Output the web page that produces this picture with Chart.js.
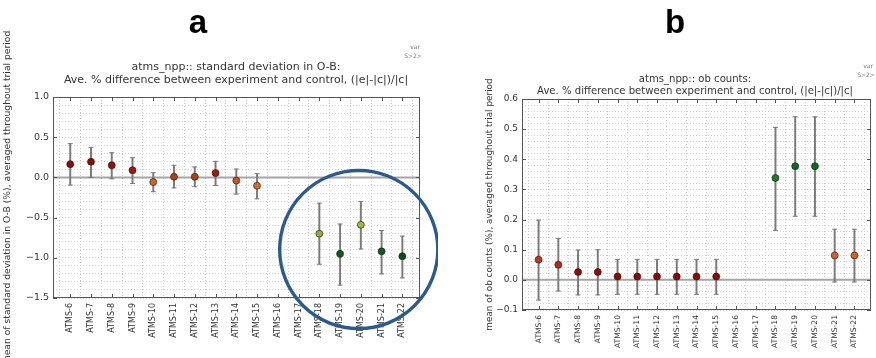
<!DOCTYPE html>
<html>
<head>
<meta charset="utf-8">
<script src="https://cdn.jsdelivr.net/npm/chart.js@4.4.0/dist/chart.umd.min.js"></script>
<style>
  html, body { margin: 0; padding: 0; background: #fff; overflow: hidden; }
  #wrap { position: relative; width: 876px; height: 358px; }
  canvas { position: absolute; top: 0; }
</style>
</head>
<body>
<div id="wrap">
  <canvas id="chartA" width="438" height="358" style="left:0"></canvas>
  <canvas id="chartB" width="438" height="358" style="left:438px"></canvas>
</div>
<script>
// channels on the x axis
const channels = ['ATMS-6', 'ATMS-7', 'ATMS-8', 'ATMS-9', 'ATMS-10', 'ATMS-11', 'ATMS-12', 'ATMS-13',
  'ATMS-14', 'ATMS-15', 'ATMS-16', 'ATMS-17', 'ATMS-18', 'ATMS-19', 'ATMS-20', 'ATMS-21', 'ATMS-22'];

// panel a: std dev in O-B, % difference
const sdMean = [0.165, 0.195, 0.15, 0.09, -0.058, 0.008, 0.008, 0.054, -0.04, -0.104, null, null, -0.70, -0.95, -0.59, -0.92, -0.98];
const sdLow  = [-0.095, 0.0, -0.017, -0.075, -0.178, -0.13, -0.116, -0.10, -0.207, -0.266, null, null, -1.08, -1.34, -0.89, -1.20, -1.25];
const sdHigh = [0.42, 0.373, 0.307, 0.245, 0.058, 0.15, 0.13, 0.20, 0.104, 0.046, null, null, -0.32, -0.58, -0.30, -0.66, -0.73];
const sdColors = ['#8b0a0a', '#8b0a0a', '#940f0c', '#a01810', '#d0602c', '#b0401a', '#b0401a', '#a01a0e', '#c85528',
  '#d46a30', null, null, '#8fb040', '#0d5d22', '#9ab845', '#0d5d22', '#0a4d1c'];
const sdTicks = [-1.5, -1.0, -0.5, 0.0, 0.5, 1.0];

// panel b: ob counts, % difference
const obMean = [0.067, 0.05, 0.026, 0.026, 0.011, 0.011, 0.011, 0.011, 0.011, 0.011, null, null, 0.338, 0.377, 0.377, 0.081, 0.081];
const obLow  = [-0.067, -0.037, -0.05, -0.05, -0.048, -0.048, -0.048, -0.048, -0.048, -0.048, null, null, 0.164, 0.211, 0.211, -0.007, -0.007];
const obHigh = [0.198, 0.137, 0.099, 0.10, 0.068, 0.068, 0.068, 0.068, 0.068, 0.068, null, null, 0.506, 0.541, 0.541, 0.168, 0.168];
const obColors = ['#c0391b', '#b52a14', '#900d0b', '#900d0b', '#8b0a0a', '#8b0a0a', '#8b0a0a', '#8b0a0a', '#8b0a0a',
  '#8b0a0a', null, null, '#1e7a30', '#0d6a25', '#0d6a25', '#d4602a', '#d4602a'];
const obTicks = [-0.1, 0.0, 0.1, 0.2, 0.3, 0.4, 0.5, 0.6];

const isMajor = (v, list) => list.some(t => Math.abs(t - v) < 1e-9);
const fmt = v => (Math.abs(v) < 1e-9 ? 0 : v).toFixed(1).replace('-', '\u2212');

function errDatasets(mean, low, high, colors) {
  const idx = channels.map((_, i) => i).filter(i => mean[i] !== null);
  return [
    { type: 'scatter', data: idx.map(i => ({ x: i, y: mean[i] })), pointRadius: 3.5,
      pointBackgroundColor: idx.map(i => colors[i]), pointBorderColor: 'rgba(30,20,10,0.75)',
      pointBorderWidth: 0.8, order: 1 },
    { type: 'scatter', data: idx.flatMap(i => [{ x: i, y: low[i] }, { x: i, y: high[i] }]),
      pointStyle: 'line', pointRadius: 2.5, pointBorderColor: '#7a7a7a', pointBorderWidth: 1, order: 2 },
    { type: 'bar', data: idx.map(i => ({ x: i, y: [low[i], high[i]] })),
      backgroundColor: '#7a7a7a', barThickness: 1.3, order: 3 }
  ];
}

const decor = {
  id: 'decor',
  beforeDatasetsDraw(chart) {
    const { ctx, chartArea: a, scales: { y } } = chart;
    const y0 = y.getPixelForValue(0);
    ctx.save();
    ctx.strokeStyle = '#a5a5a5';
    ctx.lineWidth = 2;
    ctx.beginPath(); ctx.moveTo(a.left, y0); ctx.lineTo(a.right, y0); ctx.stroke();
    ctx.restore();
  },
  afterDatasetsDraw(chart, args, o) {
    const { ctx, chartArea: a, scales: { x, y } } = chart;
    ctx.save();
    ctx.strokeStyle = '#555';
    ctx.lineWidth = 1;
    ctx.strokeRect(a.left + 0.5, a.top + 0.5, a.right - a.left - 1, a.bottom - a.top - 1);
    ctx.beginPath();
    x.ticks.forEach(t => {
      const px = Math.round(x.getPixelForValue(t.value)) + 0.5;
      ctx.moveTo(px, a.top); ctx.lineTo(px, a.top + 4);
      ctx.moveTo(px, a.bottom); ctx.lineTo(px, a.bottom - 4);
    });
    y.ticks.filter(t => isMajor(t.value, o.major)).forEach(t => {
      const py = Math.round(y.getPixelForValue(t.value)) + 0.5;
      ctx.moveTo(a.left, py); ctx.lineTo(a.left + 4, py);
      ctx.moveTo(a.right, py); ctx.lineTo(a.right - 4, py);
    });
    ctx.stroke();
    ctx.restore();
  },
  afterDraw(chart, args, o) {
    const { ctx, scales: { x, y } } = chart;
    ctx.save();
    ctx.fillStyle = '#000';
    ctx.textAlign = 'center';
    ctx.textBaseline = 'alphabetic';
    ctx.font = 'bold 33px "Liberation Sans", Arial, sans-serif';
    ctx.fillText(o.letter, o.letterX, 33);
    ctx.fillStyle = '#333';
    ctx.font = o.titleFont;
    ctx.textBaseline = 'middle';
    o.title.forEach((line, k) => ctx.fillText(line, o.titleX, o.titleY[k]));
    ctx.fillStyle = '#777';
    ctx.font = '6px "DejaVu Sans", sans-serif';
    ctx.fillText('var', o.noteX, o.noteY);
    ctx.fillText('S>2>', o.noteX - 2, o.noteY + 9);
    if (o.circle) {
      const c = o.circle;
      const cx = x.getPixelForValue(c.x);
      const cy = y.getPixelForValue(c.y);
      const r = x.getPixelForValue(c.x + c.r) - cx;
      ctx.strokeStyle = '#2c5a8e';
      ctx.lineWidth = 3.4;
      ctx.beginPath(); ctx.arc(cx, cy, r, 0, Math.PI * 2); ctx.stroke();
    }
    ctx.restore();
  }
};

function makeChart(id, p) {
  return new Chart(document.getElementById(id), {
    type: 'scatter',
    data: { datasets: errDatasets(p.mean, p.low, p.high, p.colors) },
    plugins: [decor],
    options: {
      responsive: false,
      animation: false,
      devicePixelRatio: 1,
      events: [],
      layout: { padding: p.padding },
      plugins: {
        legend: { display: false },
        tooltip: { enabled: false },
        decor: p.decor
      },
      scales: {
        x: {
          type: 'linear', min: p.xMin, max: p.xMax, offset: false,
          afterFit: s => { s.height = p.xHeight; },
          border: { display: false, dash: [1, 2] },
          grid: { color: '#c8c8c8', drawTicks: false, lineWidth: 1 },
          ticks: {
            stepSize: 1, includeBounds: false, autoSkip: false, minRotation: 90, maxRotation: 90,
            padding: 5, color: '#333', font: { family: '"DejaVu Sans", sans-serif', size: p.xFont },
            callback: v => (Number.isInteger(v) && channels[v]) ? channels[v] : null
          }
        },
        y: {
          min: p.yMin, max: p.yMax,
          afterFit: s => { s.width = p.yWidth; },
          border: { display: false, dash: [1, 2] },
          grid: { color: '#d0d0d0', drawTicks: false, lineWidth: 1 },
          ticks: {
            stepSize: p.yStep, autoSkip: false, padding: 4, color: '#333',
            font: { family: '"DejaVu Sans", sans-serif', size: p.yFont },
            callback: v => isMajor(v, p.major) ? fmt(v) : ''
          },
          title: {
            display: true, text: p.yTitle, color: '#333', padding: { top: 2, bottom: 0 },
            font: { family: '"DejaVu Sans", sans-serif', size: p.yTitleFont }
          }
        }
      }
    }
  });
}

makeChart('chartA', {
  mean: sdMean, low: sdLow, high: sdHigh, colors: sdColors, major: sdTicks,
  padding: { left: 0, top: 97, right: 18, bottom: 0 },
  xMin: -0.83, xMax: 16.85, xHeight: 60, xFont: 8,
  yMin: -1.5, yMax: 1.0, yStep: 0.1, yWidth: 53, yFont: 9.5, yTitleFont: 9.2,
  yTitle: 'mean of standard deviation in O-B (%), averaged throughout trial period',
  decor: {
    letter: 'a', letterX: 198, major: sdTicks,
    title: ['atms_npp:: standard deviation in O-B:', 'Ave. % difference between experiment and control, (|e|-|c|)/|c|'],
    titleFont: '11px "DejaVu Sans", sans-serif', titleX: 236, titleY: [67, 80],
    noteX: 415, noteY: 47,
    circle: { x: 13.9, y: -0.897, r: 3.81 }
  }
});

makeChart('chartB', {
  mean: obMean, low: obLow, high: obHigh, colors: obColors, major: obTicks,
  padding: { left: 44, top: 99, right: 5, bottom: 0 },
  xMin: -0.84, xMax: 16.84, xHeight: 48, xFont: 7.6,
  yMin: -0.1, yMax: 0.6, yStep: 0.02, yWidth: 40, yFont: 9, yTitleFont: 8.9,
  yTitle: 'mean of ob counts (%), averaged throughout trial period',
  decor: {
    letter: 'b', letterX: 237, major: obTicks,
    title: ['atms_npp:: ob counts:', 'Ave. % difference between experiment and control, (|e|-|c|)/|c|'],
    titleFont: '10.1px "DejaVu Sans", sans-serif', titleX: 257, titleY: [79, 91],
    noteX: 430, noteY: 66
  }
});
</script>
</body>
</html>
